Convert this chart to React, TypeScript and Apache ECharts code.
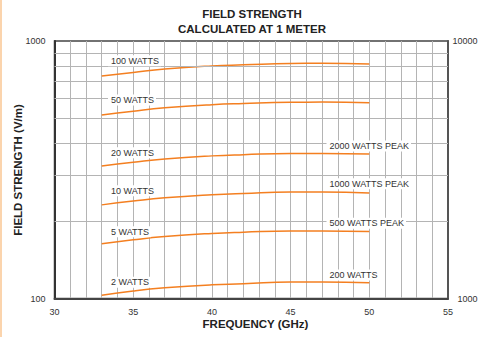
import React, { useEffect, useRef } from "react";
import * as echarts from "echarts";

const freqs = [33, 35, 37, 40, 42, 45, 47, 50];
const w100 = [731, 755, 778, 800, 808, 818, 819, 814];
const w50 = [516, 534, 550, 566, 572, 578, 579, 576];
const w20 = [327, 338, 348, 358, 362, 366, 366, 364];
const w10 = [231, 239, 246, 253, 256, 259, 259, 257];
const w5 = [163, 169, 174, 179, 181, 183, 183, 182];
const w2 = [103, 107, 110, 113, 114, 116, 116, 115];
const minorLines = [200, 300, 400, 500, 600, 700, 800, 900];

const leftLabels = ["100 WATTS", "50 WATTS", "20 WATTS", "10 WATTS", "5 WATTS", "2 WATTS"];
const rightLabels = ["2000 WATTS PEAK", "1000 WATTS PEAK", "500 WATTS PEAK", "200 WATTS"];

const FONT = "'Liberation Sans', Arial, Helvetica, sans-serif";
const ORANGE = "#f47f20";
const GRID = "#b4b4b4";

export default function App() {
  const ref = useRef<HTMLDivElement>(null);
  useEffect(() => {
    if (!ref.current) return;
    const chart = echarts.init(ref.current, null, { renderer: "svg" });
    const allSeries = [w100, w50, w20, w10, w5, w2];
    const series: any[] = [
      {
        type: "line",
        data: [],
        z: 1,
        silent: true,
        markLine: {
          silent: true,
          symbol: "none",
          label: { show: false },
          lineStyle: { color: GRID, width: 1, type: "solid" },
          data: minorLines.map((v) => ({ yAxis: v })),
        },
      },
      ...allSeries.map((s) => ({
        type: "line",
        smooth: true,
        showSymbol: false,
        z: 3,
        lineStyle: { color: ORANGE, width: 1.5 },
        itemStyle: { color: ORANGE },
        data: freqs.map((f, i) => [f, s[i]]),
      })),
    ];
    const leftY = [60.7, 100, 152.7, 190.7, 231.7, 282.3];
    const rightY = [146, 183.7, 223.3, 275];
    const labelStyle = (text: string) => ({
      text,
      font: `9px ${FONT}`,
      fill: "#333",
      backgroundColor: "#fff",
      padding: [1, 2, 1, 3],
      verticalAlign: "middle",
      align: "left",
    });
    chart.setOption({
      animation: false,
      grid: {
        left: 54.5,
        right: 30,
        top: 41,
        bottom: 38.5,
        outerBoundsMode: "none",
        containLabel: false,
        show: true,
        borderColor: "#444",
        borderWidth: 1.5,
        backgroundColor: "transparent",
      },
      xAxis: {
        type: "value",
        min: 30,
        max: 55,
        interval: 1,
        axisLine: { show: true, lineStyle: { color: "#444", width: 2 } },
        axisTick: { show: false },
        splitLine: { show: true, lineStyle: { color: GRID, width: 1 } },
        axisLabel: {
          margin: 9,
          color: "#333",
          fontSize: 9,
          fontFamily: FONT,
          formatter: (v: number) => (v % 5 === 0 ? String(v) : ""),
        },
      },
      yAxis: [
        {
          type: "log",
          logBase: 10,
          min: 100,
          max: 1000,
          axisLine: { show: true, lineStyle: { color: "#333", width: 2 } },
          axisTick: { show: false },
          splitLine: { show: false },
          axisLabel: {
            margin: 9,
            color: "#333",
            fontSize: 9,
            fontFamily: FONT,
            formatter: (v: number) => String(Math.round(v)),
          },
        },
        {
          type: "log",
          logBase: 10,
          min: 1000,
          max: 10000,
          position: "right",
          axisLine: { show: true, lineStyle: { color: "#555", width: 2 } },
          axisTick: { show: false },
          splitLine: { show: false },
          axisLabel: {
            margin: 29.5,
            align: "right",
            color: "#333",
            fontSize: 9,
            fontFamily: FONT,
            formatter: (v: number) => String(Math.round(v)),
          },
        },
      ],
      series,
      graphic: [
        { type: "rect", shape: { x: 0, y: 0, width: 2, height: 337 }, style: { fill: "#fbd4ad" } },
        {
          type: "text",
          x: 252,
          y: 14,
          style: { text: "FIELD STRENGTH", font: `bold 11.5px ${FONT}`, fill: "#222", align: "center", verticalAlign: "middle" },
        },
        {
          type: "text",
          x: 252,
          y: 28.5,
          style: { text: "CALCULATED AT 1 METER", font: `bold 11.5px ${FONT}`, fill: "#222", align: "center", verticalAlign: "middle" },
        },
        {
          type: "text",
          x: 255.5,
          y: 324,
          style: { text: "FREQUENCY (GHz)", font: `bold 11.5px ${FONT}`, fill: "#222", align: "center", verticalAlign: "middle" },
        },
        {
          type: "text",
          x: 17.5,
          y: 170,
          rotation: Math.PI / 2,
          style: { text: "FIELD STRENGTH (V/m)", font: `bold 11.5px ${FONT}`, fill: "#222", align: "center", verticalAlign: "middle" },
        },
        ...leftLabels.map((t, i) => ({
          type: "text",
          z: 10,
          x: 108,
          y: leftY[i],
          style: labelStyle(t),
        })),
        ...rightLabels.map((t, i) => ({
          type: "text",
          z: 10,
          x: 326.5,
          y: rightY[i],
          style: labelStyle(t),
        })),
      ],
    });
    return () => chart.dispose();
  }, []);
  return (
    <div
      ref={ref}
      style={{ position: "fixed", left: 0, top: 0, width: 478, height: 337, background: "#fff" }}
    />
  );
}
